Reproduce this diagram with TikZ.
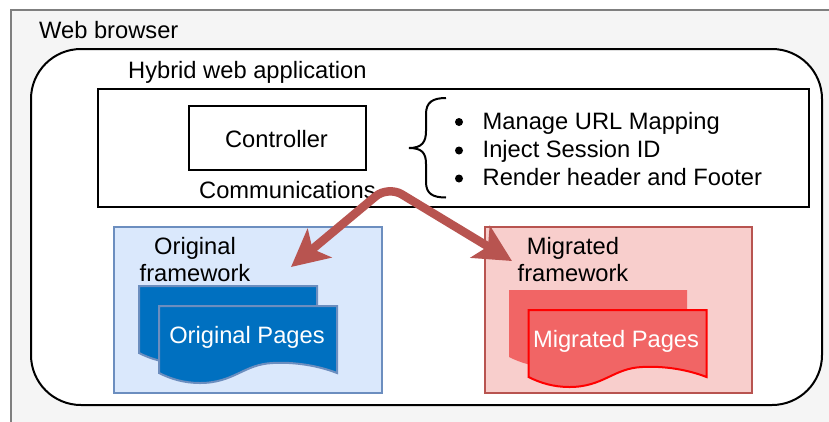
\documentclass[tikz,border=0pt]{standalone}
\usepackage{fontspec}
\setmainfont{Liberation Sans}
\usetikzlibrary{arrows.meta}
\definecolor{browserfill}{HTML}{F5F5F5}
\definecolor{browserline}{HTML}{7F7F7F}
\definecolor{bluefill}{HTML}{DAE8FC}
\definecolor{blueline}{HTML}{6C8EBF}
\definecolor{docblue}{HTML}{0070C0}
\definecolor{redfill}{HTML}{F8CECC}
\definecolor{redline}{HTML}{B85450}
\definecolor{docred}{HTML}{F16565}
\tikzset{
  lbl/.style={font=\fontsize{23.7}{28}\selectfont, inner sep=0pt, anchor=base west, text=black},
  lblc/.style={lbl, anchor=base},
  wlbl/.style={lblc, text=white},
  blackbox/.style={draw=black, line width=2pt, fill=white},
  bul/.style={circle, fill=black, inner sep=0pt, minimum size=8pt},
  bluedoc/.style={fill=docblue, draw=blueline, line width=2pt},
  reddocback/.style={fill=docred},
  reddocfront/.style={fill=docred, draw=red, line width=2pt},
  flow/.style={draw=redline, line width=8.5pt, rounded corners=16pt, line join=round,
    {Stealth[length=37pt,width=37pt,inset=9pt,fill=redline]}-{Stealth[length=37pt,width=37pt,inset=9pt,fill=redline]}}
}
\newcommand{\docshape}{%
  (0,0) -- (178,0) -- (178,67)
  .. controls (155,58) and (130,56) .. (114,57)
  .. controls (85,58) and (75,77) .. (41,77)
  .. controls (25,77) and (12,73) .. (0,67) -- cycle}
\begin{document}
\begin{tikzpicture}[x=1pt,y=-1pt]
\useasboundingbox (0,0) rectangle (829,421);
\clip (0,0) rectangle (829,421);
\draw[fill=browserfill, draw=browserline, line width=2pt] (11,10) rectangle (850,450);
\node[lbl] (webbrowser) at (39,38) {Web browser};
\draw[fill=white, draw=black, line width=2pt, rounded corners=50pt] (31,49) rectangle (822,405);
\node[lbl] (hybrid) at (128,78) {Hybrid web application};
\draw[blackbox] (98,88.5) rectangle (809,207);
\draw[blackbox] (189,106) rectangle (366,170);
\node[lblc] (controller) at (276.5,147) {Controller};
\node[lbl] (comm) at (199,198) {Communications};
\draw[black, line width=2pt] (446,98) .. controls (433,98) and (426,102) .. (426,114) -- (426,131)
  .. controls (426,142) and (422,148) .. (409,148)
  .. controls (422,148) and (426,153) .. (426,164) -- (426,182)
  .. controls (426,194) and (433,197.5) .. (446,197.5);
\node[bul] (b1) at (459,122) {};
\node[bul] (b2) at (459,150.5) {};
\node[bul] (b3) at (459,178.5) {};
\node[lbl] (t1) at (482.5,129) {Manage URL Mapping};
\node[lbl] (t2) at (482.5,157.5) {Inject Session ID};
\node[lbl] (t3) at (482.5,185.5) {Render header and Footer};
% original
\draw[fill=bluefill, draw=blueline, line width=2pt] (114,227) rectangle (382,393);
\node[lblc] (orig) at (195,254) {Original};
\node[lblc] (origf) at (195,281.5) {framework};
\draw[bluedoc, shift={(139,286)}] \docshape;
\draw[bluedoc, shift={(159,306)}] \docshape;
\node[wlbl] (origp) at (247,343) {Original Pages};
% migrated
\draw[fill=redfill, draw=redline, line width=2pt] (485,227) rectangle (752,393);
\node[lblc] (migr) at (573,254) {Migrated};
\node[lblc] (migrf) at (573,281.5) {framework};
\fill[reddocback, shift={(509,290)}] \docshape;
\draw[reddocfront, shift={(528.5,310)}] \docshape;
\node[wlbl] (migrp) at (616,347) {Migrated Pages};
% connectors
\coordinate (apex) at (388,186);
\coordinate (tipL) at (291,267);
\coordinate (tipR) at (512,261);
\path[flow] (tipL) -- (apex) -- (tipR);
\end{tikzpicture}
\end{document}
